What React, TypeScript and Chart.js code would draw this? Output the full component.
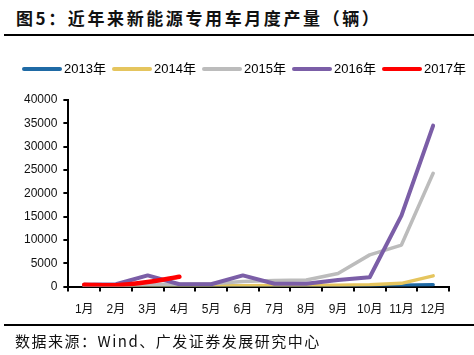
import React, { useEffect, useRef } from "react";
import { Chart, registerables } from "chart.js";

Chart.register(...registerables);

const months = ["1月", "2月", "3月", "4月", "5月", "6月", "7月", "8月", "9月", "10月", "11月", "12月"];
const seriesNames = ["2013年", "2014年", "2015年", "2016年", "2017年"];
const v2013 = [50, 50, 50, 50, 50, 50, 100, 100, 100, 200, 300, 400];
const v2014 = [100, 100, 100, 100, 150, 200, 250, 250, 300, 400, 700, 2300];
const v2015 = [200, 200, 500, 500, 600, 1100, 1300, 1400, 2800, 6800, 8900, 24300];
const v2016 = [400, 500, 2400, 500, 500, 2400, 600, 600, 1400, 2000, 15200, 34500];
const v2017 = [400, 300, 1000, 2100];
const yTicks = [0, 5000, 10000, 15000, 20000, 25000, 30000, 35000, 40000];

const colors = ["#1f6aa5", "#e5c55e", "#bcbcbc", "#7b5ea7", "#ff0000"];
const widths = [3.5, 3.5, 3.5, 4, 4.5];
const FONT = "Arial, 'Liberation Sans', 'Noto Sans CJK SC'";

const lineLegend = {
  id: "lineLegend",
  afterDraw(chart: any) {
    const ctx = chart.ctx;
    const items = chart.data.datasets;
    const y = 25;
    ctx.save();
    ctx.font = `13px ${FONT}`;
    ctx.textBaseline = "middle";
    ctx.lineCap = "round";
    items.forEach((ds: any, i: number) => {
      const x0 = 24 + i * 90;
      ctx.strokeStyle = ds.borderColor;
      ctx.lineWidth = 4;
      ctx.beginPath();
      ctx.moveTo(x0, y);
      ctx.lineTo(x0 + 36, y);
      ctx.stroke();
      ctx.fillStyle = "#000";
      ctx.fillText(ds.label, x0 + 40, y);
    });
    ctx.restore();
  },
};

export default function App() {
  const ref = useRef<HTMLCanvasElement>(null);
  useEffect(() => {
    document.body.style.margin = "0";
    const all = [v2013, v2014, v2015, v2016, v2017];
    const chart = new Chart(ref.current!, {
      type: "line",
      data: {
        labels: months,
        datasets: all.map((d, i) => ({
          label: seriesNames[i],
          data: d,
          borderColor: colors[i],
          backgroundColor: colors[i],
          borderWidth: widths[i],
          pointRadius: 0,
          tension: i === 4 ? 0.3 : 0,
          order: 5 - i,
          borderCapStyle: "round" as const,
          borderJoinStyle: "round" as const,
        })),
      },
      plugins: [lineLegend],
      options: {
        animation: false,
        responsive: false,
        maintainAspectRatio: false,
        layout: { padding: { left: 18, right: 25, top: 56, bottom: 1 } },
        plugins: {
          tooltip: { enabled: false },
          legend: { display: false },
        },
        scales: {
          x: {
            offset: true,
            grid: {
              offset: true,
              drawOnChartArea: false,
              drawTicks: true,
              tickLength: 5,
              color: "#000",
              lineWidth: 2,
            },
            border: { color: "#000", width: 2 },
            ticks: {
              color: "#111",
              padding: 11,
              maxRotation: 0,
              autoSkip: false,
              font: { family: FONT, size: 12 },
            },
          },
          y: {
            min: 0,
            max: 40000,
            afterBuildTicks: (axis: any) => {
              axis.ticks = yTicks.map((v) => ({ value: v }));
            },
            grid: {
              drawOnChartArea: false,
              drawTicks: true,
              tickLength: 5,
              color: "#000",
              lineWidth: 2,
            },
            border: { color: "#000", width: 2 },
            ticks: {
              color: "#111",
              padding: 6,
              callback: (v: any) => String(v),
              font: { family: FONT, size: 12 },
            },
          },
        },
      },
    });
    return () => chart.destroy();
  }, []);

  return (
    <div style={{ position: "relative", width: 474, height: 355, background: "#fff", overflow: "hidden" }}>
      <div
        style={{
          position: "absolute",
          left: 16,
          top: 7,
          fontFamily: "'Noto Sans CJK SC', sans-serif",
          fontSize: 17,
          fontWeight: "bold",
          letterSpacing: 2.6,
          lineHeight: "22px",
          whiteSpace: "nowrap",
          color: "#111",
        }}
      >
        图5：近年来新能源专用车月度产量（辆）
      </div>
      <div style={{ position: "absolute", left: 4, top: 34, width: 470, height: 2, background: "#000" }} />
      <canvas ref={ref} width={474} height={285} style={{ position: "absolute", left: 0, top: 44 }} />
      <div style={{ position: "absolute", left: 4, top: 324, width: 470, height: 1.5, background: "#000" }} />
      <div
        style={{
          position: "absolute",
          left: 15,
          top: 331,
          fontFamily: "'Noto Sans CJK SC', Arial, sans-serif",
          fontSize: 15,
          letterSpacing: 1.5,
          lineHeight: "20px",
          whiteSpace: "nowrap",
          color: "#111",
        }}
      >
        数据来源：Wind、广发证券发展研究中心
      </div>
    </div>
  );
}
